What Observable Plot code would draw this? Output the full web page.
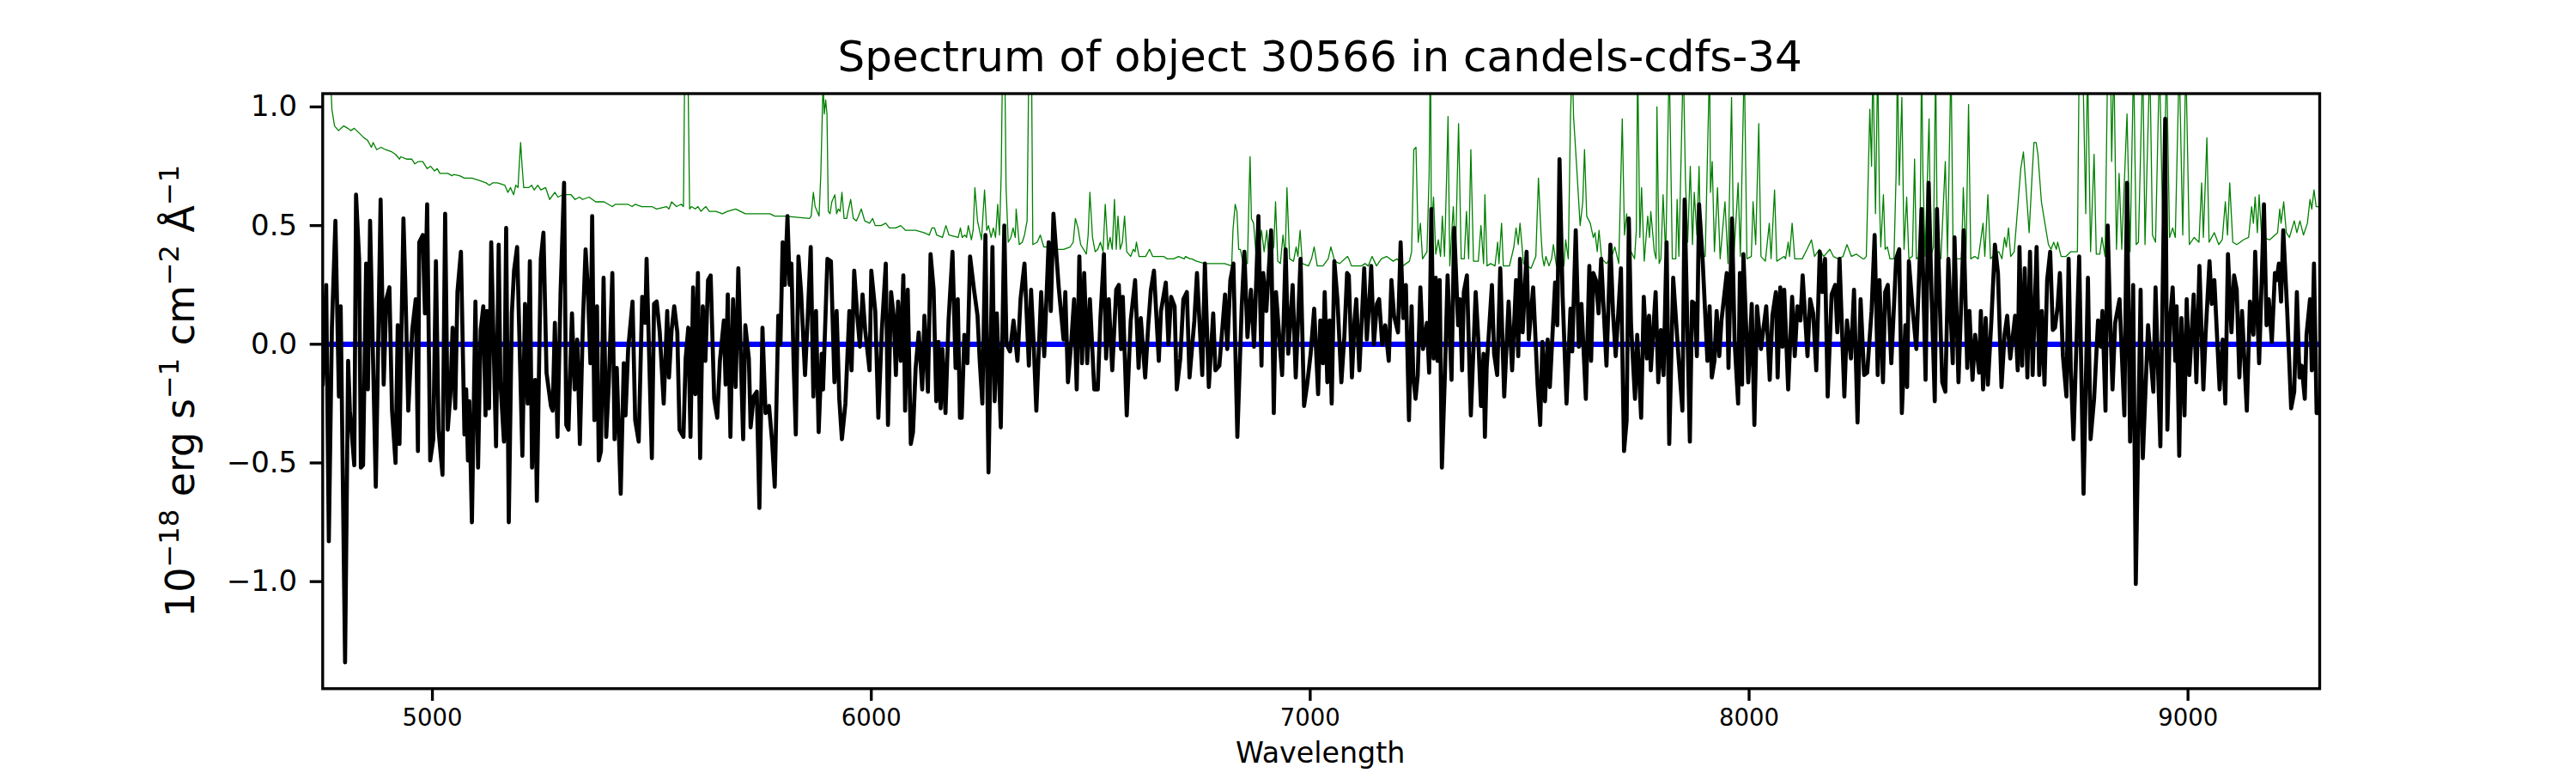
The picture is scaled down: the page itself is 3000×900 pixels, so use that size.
<!DOCTYPE html>
<html><head><meta charset="utf-8">
<script src="https://cdn.jsdelivr.net/npm/d3@7"></script>
<script src="https://cdn.jsdelivr.net/npm/@observablehq/plot@0.6"></script>
<style>html,body{margin:0;padding:0;background:#fff}svg{display:block}</style>
</head><body><div id="chart"></div>
<script>
const titleText = "Spectrum of object 30566 in candels-cdfs-34";
const xLabel = "Wavelength";
const xTicks = [5000,6000,7000,8000,9000];
const yTicks = [-1,-0.5,0,0.5,1];
const blackWave = [
4750,4758,4764,4771,4779,4787,4791,4801,4808,4812,4822,4826,4833,4837,4842,4849,4853,4858,4871,4882,4889,4895,4902,4908,4916,4921,4925,4934,4938,4945,4954,4962,4967,4970,4978,4983,4988,4995,5002,5008,5014,5023,5029,5035,5041,5046,5052,5057,5065,5073,5077,5081,5084,5090,5098,5104,5110,5116,5121,5124,5129,5134,5145,5151,5155,5163,5168,5174,5181,5186,5193,5205,5211,5217,5222,5227,5234,5238,5247,5253,5260,5270,5274,5279,5285,5292,5300,5305,5310,5318,5324,5330,5336,5343,5349,5354,5360,5364,5369,5375,5379,5384,5390,5396,5402,5410,5415,5420,5424,5429,5436,5440,5446,5456,5462,5470,5478,5485,5488,5500,5505,5511,5518,5527,5535,5539,5545,5551,5558,5563,5572,5577,5583,5588,5594,5599,5605,5610,5616,5622,5628,5634,5642,5649,5655,5664,5668,5673,5679,5685,5691,5697,5708,5713,5721,5725,5732,5739,5745,5752,5759,5767,5774,5780,5788,5793,5798,5803,5809,5814,5818,5823,5828,5834,5840,5849,5855,5862,5868,5874,5880,5887,5890,5900,5908,
5916,5921,5927,5933,5941,5950,5955,5961,5968,5974,5980,5986,5996,6000,6009,6016,6024,6033,6038,6045,6051,6056,6061,6067,6073,6077,6083,6090,6095,6101,6108,6116,6121,6129,6135,6142,6148,6153,6158,6162,6169,6176,6185,6192,6197,6202,6206,6212,6219,6225,6234,6242,6247,6253,6260,6267,6276,6281,6286,6295,6303,6308,6316,6324,6333,6340,6349,6359,6364,6370,6376,6387,6394,6404,6409,6415,6427,6438,6442,6448,6456,6462,6468,6474,6480,6485,6492,6498,6508,6516,6522,6530,6535,6541,6549,6558,6564,6569,6573,6582,6591,6601,6609,6614,6624,6631,6637,6644,6655,6660,6671,6677,6683,6691,6696,6704,6711,6719,6725,6736,6742,6754,6760,6769,6779,6784,6793,6806,6811,6818,6825,6834,6844,6850,6857,6865,6872,6882,6889,6893,6900,6911,6917,6922,6930,6936,6944,6950,6960,6967,6978,6986,6993,7001,7009,7018,7023,7029,7033,7039,7044,7049,7055,7062,7071,7078,7084,
7088,7095,7101,7105,7112,7123,7129,7134,7139,7145,7152,7157,7164,7171,7179,7185,7191,7200,7206,7212,7218,7225,7231,7235,7240,7245,7251,7257,7266,7271,7276,7281,7286,7290,7295,7300,7307,7313,7322,7328,7337,7341,7346,7350,7357,7366,7377,7383,7389,7395,7398,7402,7414,7419,7426,7433,7442,7452,7460,7469,7474,7478,7484,7493,7498,7508,7518,7524,7529,7535,7541,7546,7558,7563,7568,7575,7584,7593,7597,7605,7612,7618,7628,7636,7640,7645,7651,7657,7663,7675,7684,7690,7696,7708,7715,7721,7726,7731,7740,7745,7754,7760,7767,7772,7776,7787,7793,7799,7805,7812,7818,7827,7839,7848,7853,7865,7870,7876,7881,7886,7894,7905,7910,7915,7921,7926,7932,7937,7949,7953,7961,7967,7975,7979,7984,7987,7998,8006,8012,8018,8027,8039,8047,8053,8061,8065,8071,8076,8080,8089,8098,8104,8110,8117,8122,8133,8139,8146,8153,8161,8167,8173,8179,8188,8196,8201,8206,8217,8223,8232,8239,8247,8254,
8262,8269,8279,8286,8293,8297,8305,8310,8316,8324,8335,8342,8348,8356,8360,8364,8372,8381,8393,8402,8409,8416,8423,8428,8440,8447,8454,8464,8468,8477,8489,8497,8502,8509,8515,8524,8528,8533,8539,8544,8552,8560,8567,8575,8582,8588,8595,8606,8612,8616,8622,8628,8634,8640,8646,8655,8661,8667,8673,8679,8686,8692,8697,8703,8708,8715,8723,8728,8733,8739,8752,8762,8772,8778,8786,8795,8801,8805,8812,8817,8822,8828,8834,8844,8855,8861,8868,8875,8881,8892,8897,8909,8921,8926,8937,8948,8953,8959,8965,8971,8974,8980,8985,8992,8997,9003,9013,9019,9026,9035,9040,9049,9054,9060,9072,9079,9085,9091,9099,9105,9111,9117,9123,9134,9141,9149,9153,9162,9166,9173,9179,9184,9191,9198,9202,9207,9212,9217,9226,9235,9242,9248,9254,9259,9266,9270,9278,9282,9287,9293,9300];
const blackFlux = [
-.17,.25,-.83,.07,.52,-.22,.16,-1.34,-.07,-.28,-.51,.63,.36,-.52,-.51,.34,-.19,.52,-.60,.61,-.17,.19,.24,-.28,-.50,.08,-.42,.53,.27,-.28,.06,.19,-.45,.43,.46,.13,.59,-.49,-.40,.35,-.36,-.55,.55,-.36,-.21,.07,-.27,.22,.39,-.38,-.19,-.49,-.24,-.75,.18,-.52,.06,.16,-.30,.14,-.27,.43,-.43,.42,-.16,-.41,.49,-.75,.13,.31,.41,-.47,.17,-.25,.35,-.52,-.15,-.66,.36,.47,-.12,-.26,-.28,.09,-.39,.22,.68,-.34,-.36,.13,-.19,.02,-.42,.10,.40,.24,-.08,.54,-.32,.16,-.49,-.45,.28,-.39,-.16,.30,-.40,-.10,-.33,-.63,-.08,-.30,-.02,.18,-.32,-.41,.20,.09,.36,-.48,.17,.18,.05,-.25,.14,-.14,.06,.16,.05,-.36,-.39,-.06,.07,-.39,.24,-.21,.30,-.48,.16,-.07,.27,.29,-.23,-.31,-.07,.10,-.17,.21,-.39,.19,-.18,.32,-.40,.08,-.06,-.35,-.22,-.20,-.69,.07,-.29,-.26,-.41,-.60,.12,.00,.43,.25,.54,.25,.34,-.08,-.38,.37,.22,-.13,.11,.41,-.22,.14,-.37,-.04,-.19,.36,.35,
-.16,.14,-.23,-.40,-.25,.14,-.11,.31,.12,-.01,.21,.06,-.11,.31,.14,-.31,.06,.34,-.34,.22,.12,-.13,.18,-.07,.29,-.28,.23,-.42,-.37,-.10,.05,-.19,.12,-.20,.38,.23,-.24,.01,-.27,-.02,-.29,.10,.39,-.10,.19,-.31,-.31,.04,-.08,.37,.23,.12,-.07,-.25,.46,-.54,.41,-.24,.13,-.35,.50,.00,-.03,.10,-.07,.19,.34,-.09,.23,.00,-.28,.22,-.05,.43,.14,.55,.24,.02,.22,-.16,.02,.19,-.19,.37,-.08,.30,-.08,.19,-.19,-.19,.11,.38,-.06,.19,-.11,.23,.25,-.02,.20,-.30,.10,.27,-.10,.11,-.14,.08,.23,.31,-.07,.14,.26,.00,.20,.16,-.19,-.06,.19,.22,-.14,.10,.30,-.13,.34,-.18,.13,-.11,-.09,.21,-.02,.27,.34,-.39,.16,.39,.03,.23,-.01,.54,-.09,.30,.14,.48,-.29,.22,.02,-.13,.40,-.04,.25,-.14,.36,-.26,-.17,-.04,.15,-.21,.10,-.08,.22,-.16,.10,-.25,.35,.19,-.16,.04,.30,
.29,-.14,.10,.19,-.11,.32,.02,.16,.33,.00,.17,.19,.00,.08,-.07,.27,.12,.05,.43,.11,.25,-.32,.16,-.14,-.23,-.13,.24,-.02,.09,-.12,.57,-.06,.28,-.07,.27,-.52,-.12,.29,-.15,.49,.08,.19,-.11,.22,.29,-.30,.22,.02,-.26,-.04,-.39,-.10,.25,-.04,-.13,.32,-.22,.18,-.11,.27,-.05,.36,.05,.39,.02,.24,-.17,-.34,.01,-.24,.02,-.18,.26,.08,.78,.21,-.25,.15,-.03,.48,-.01,.17,-.23,.33,-.07,.30,.27,.13,.36,-.09,.42,.13,-.05,.32,-.45,-.32,.53,.08,-.23,.04,-.31,.20,-.06,.12,-.11,.22,-.16,.06,-.13,.43,-.42,.28,-.05,-.28,.61,-.41,.18,.17,-.05,.59,.36,-.07,.16,-.14,-.07,.14,-.05,.10,.30,-.10,.53,.01,-.25,.30,-.17,.38,-.16,.17,-.34,.16,-.02,.16,-.15,.12,.22,-.14,.24,-.01,.23,-.19,.20,-.05,.16,.10,.29,-.05,.19,.13,-.11,.39,.22,.36,-.22,.21,.25,.05,.36,-.22,.10,-.06,.23,-.33,.19,
-.13,-.12,.14,.46,-.13,.27,-.16,.22,.25,-.08,.36,.40,-.29,.08,-.18,.35,.16,-.02,.57,-.15,.68,.19,-.24,.57,-.16,-.20,.36,-.08,.45,-.16,.48,-.10,.14,-.15,.04,-.12,.14,-.19,.11,-.17,.10,.42,.30,-.18,.04,.12,-.06,.12,-.11,.41,-.09,.32,-.14,.39,-.13,.41,-.13,.14,-.17,.27,.39,.06,.07,.16,.30,-.05,-.22,.36,-.11,-.40,.37,-.63,.28,-.40,-.23,.10,-.01,.14,-.28,.50,.14,-.19,.09,.19,-.30,.68,-.41,.25,-1.01,.23,-.48,.08,-.20,.24,-.43,.95,-.36,.10,.24,-.07,.16,-.47,.11,-.30,.19,-.13,.21,-.16,.33,-.19,.04,.35,.17,.27,-.19,.02,-.25,.38,.05,.29,.23,-.14,.14,-.28,.18,.04,.39,-.08,.16,.59,.08,.19,.01,.30,.27,.34,.18,.48,.14,-.27,-.20,.22,-.14,-.09,-.23,.04,.19,-.11,.34,-.29,-.29];
const greenWave = [
4750,4766,4771,4777,4786,4792,4798,4807,4814,4822,4833,4844,4852,4861,4865,4873,4883,4893,4908,4916,4925,4928,4942,4953,4960,4968,4978,4988,4996,5005,5011,5017,5035,5045,5048,5062,5073,5090,5107,5122,5130,5137,5148,5165,5172,5178,5185,5190,5195,5198,5201,5204,5208,5219,5226,5232,5240,5247,5258,5267,5279,5286,5297,5316,5325,5335,5342,5357,5372,5391,5410,5417,5436,5445,5455,5462,5477,5500,5511,5533,5539,5545,5556,5567,5572,5575,5579,5582,5586,5590,5599,5605,5612,5617,5623,5631,5646,5661,5672,5691,5713,5736,5769,5780,5803,5859,5863,5868,5872,5881,5885,5890,5893,5896,5899,5902,5906,5910,
5917,5921,5925,5929,5933,5938,5944,5947,5953,5959,5966,5971,5977,5985,5996,6003,6009,6022,6033,6041,6056,6067,6078,6101,6120,6132,6138,6144,6149,6162,6170,6177,6198,6203,6207,6213,6217,6221,6228,6232,6236,6242,6251,6258,6263,6267,6273,6278,6283,6288,6292,6296,6299,6302,6304,6307,6312,6318,6323,6328,6330,6337,6344,6349,6355,6359,6362,6365,6368,6378,6385,6393,6408,6423,6438,6453,6460,6465,6471,6477,6490,6494,6498,6504,6510,6516,6522,6528,6533,6539,6544,6549,6554,6558,6562,6567,6572,6577,6582,6591,6597,6601,6604,6610,6625,6634,6641,6655,6666,6674,6689,6700,6713,6716,6726,6730,6741,6760,6786,6805,6821,6824,6829,6833,6837,6841,6846,6857,6861,6863,6866,6871,6876,6883,6889,6895,6901,6906,6917,6921,6926,6932,6938,6943,6947,6953,6962,6968,6972,6977,6982,6996,7003,7009,7016,7029,7041,7047,7056,7067,7085,
7088,7094,7117,7125,7132,7141,7151,7162,7174,7189,7198,7211,7226,7231,7236,7241,7246,7251,7256,7266,7271,7274,7276,7281,7286,7292,7297,7301,7306,7311,7314,7318,7326,7331,7338,7344,7351,7356,7361,7366,7372,7383,7389,7395,7398,7403,7411,7421,7427,7430,7436,7440,7454,7464,7469,7474,7478,7486,7503,7514,7520,7526,7529,7533,7537,7544,7550,7554,7561,7578,7582,7588,7593,7597,7600,7608,7615,7621,7625,7630,7638,7645,7649,7654,7658,7664,7675,7687,7694,7703,7708,7711,7716,7721,7726,7731,7739,7743,7746,7751,7755,7761,7769,7773,7776,7784,7788,7790,7795,7799,7804,7810,7818,7825,7833,7836,7840,7850,7855,7860,7866,7871,7875,7881,7886,7890,7900,7910,7912,7916,7921,7928,7934,7945,7952,7960,7965,7975,7980,7989,7995,8005,8009,8015,8022,8027,8037,8046,8050,8058,8063,8080,8083,8089,8092,8098,8104,8121,8132,8137,8142,8149,8160,8170,8184,8192,8203,8214,8223,8233,8244,8259,
8262,8267,8270,8275,8279,8282,8288,8293,8297,8300,8306,8310,8315,8321,8330,8335,8338,8342,8348,8353,8359,8364,8372,8377,8381,8389,8393,8396,8401,8410,8414,8420,8425,8429,8437,8447,8452,8460,8465,8475,8484,8488,8494,8500,8505,8514,8522,8533,8537,8544,8550,8561,8569,8576,8582,8586,8591,8596,8604,8613,8619,8625,8634,8638,8645,8649,8654,8658,8666,8673,8682,8688,8694,8700,8703,8711,8722,8733,8748,8752,8759,8767,8771,8778,8786,8791,8799,8804,8811,8817,8823,8826,8831,8837,8843,8849,8861,8868,8876,8882,8887,8897,8902,8913,8919,8926,8935,8943,8951,8958,8965,8971,8980,8988,8995,9003,9014,9025,9031,9035,9043,9048,9060,9070,9078,9085,9090,9095,9102,9111,9119,9126,9138,9145,9149,9153,9158,9162,9168,9186,9198,9204,9209,9212,9218,9224,9231,9242,9248,9255,9263,9272,9278,9282,9287,9292,9300];
const greenFlux = [
2,1.2,.99,.92,.90,.91,.92,.91,.90,.91,.89,.87,.86,.83,.85,.82,.83,.82,.81,.80,.78,.79,.78,.78,.76,.77,.77,.74,.75,.73,.74,.72,.72,.71,.715,.71,.70,.70,.69,.68,.67,.68,.68,.67,.64,.66,.63,.67,.66,.76,.85,.76,.66,.66,.67,.65,.67,.65,.66,.61,.64,.62,.63,.63,.61,.62,.61,.62,.60,.60,.58,.59,.59,.59,.58,.59,.58,.58,.57,.58,.57,.60,.58,.59,.58,1.2,1.8,1.2,.57,.58,.57,.58,.56,.57,.58,.56,.56,.55,.56,.57,.55,.55,.55,.54,.54,.53,.54,.64,.58,.54,.72,1.1,.97,1.03,.97,.56,.55,.60,
.63,.55,.57,.56,.64,.53,.53,.56,.61,.53,.52,.54,.57,.52,.51,.53,.50,.50,.51,.49,.49,.50,.48,.48,.47,.46,.49,.49,.46,.45,.50,.46,.45,.49,.45,.46,.45,.50,.44,.48,.66,.52,.44,.65,.48,.50,.45,.49,.45,.59,.46,.72,1.2,1.8,1.2,.66,.43,.45,.49,.45,.57,.42,.43,.46,.52,1.2,2,1.2,.42,.43,.46,.41,.41,.40,.40,.41,.43,.53,.49,.42,.38,.46,.64,.45,.39,.40,.43,.39,.59,.40,.45,.40,.61,.40,.54,.40,.43,.54,.39,.37,.40,.39,.43,.37,.37,.40,.37,.37,.37,.36,.36,.37,.36,.37,.36,.36,.35,.34,.34,.34,.33,.48,.59,.56,.40,.40,.35,.34,.66,.79,.53,.51,.39,.39,.48,.39,.48,.36,.41,.60,.35,.34,.46,.37,.66,.36,.35,.41,.37,.48,.34,.33,.36,.41,.33,.33,.36,.41,.35,.34,.37,
.36,.33,.33,.34,.33,.37,.33,.36,.37,.35,.36,.33,.35,.39,.82,.83,.43,.51,.36,.39,.72,1.3,.48,.62,.38,.44,.37,.54,.37,.72,.96,.33,.58,.37,.93,.36,.36,.56,.36,.82,.35,.35,.50,.34,.63,.33,.34,.33,.43,.34,.51,.33,.33,.41,.49,.42,.51,.34,.32,.37,.70,.46,.37,.33,.37,.33,.36,.42,.33,.33,.44,.36,.96,1.2,.96,.72,.50,.60,.82,.54,.51,.45,.47,.39,.48,.36,.34,.37,.41,.34,.72,.95,.46,.55,.43,.39,.36,.48,1.2,.45,.66,.35,.54,.45,.56,.39,.36,1.0,.34,.36,.63,.37,1.2,.36,.36,.61,.37,1.2,.69,.43,.75,.42,.64,.46,.75,.37,.37,1.2,.64,.77,.39,.66,.36,.60,.34,1.04,.36,.68,.37,1.2,.36,.37,.60,.42,.93,.37,.35,.51,.36,.65,.35,.37,.36,.43,.37,.51,.36,.36,.40,.42,.44,.37,.40,.37,.40,.37,.36,.37,.42,.37,.38,.36,
.36,.37,.60,.99,.75,1.2,.55,1.2,.60,.41,.63,.40,.41,.36,.36,.72,1.2,.67,1.04,.40,.62,.36,.37,.78,.36,.37,1.2,.72,.37,.95,.37,.41,1.2,.37,.36,.77,.37,1.2,.36,.36,.36,.66,.36,1.01,.36,.37,.36,.51,.37,.63,.36,.38,.39,.36,.45,.41,.49,.37,.39,.60,.74,.81,.58,.47,.72,.85,.85,.80,.60,.52,.42,.40,.43,.40,.43,.37,.37,.39,.39,1.2,1.3,.55,1.2,.39,.80,.38,.38,.45,.37,1.2,1.3,.77,1.2,.40,.72,.40,.97,.39,1.2,.42,.43,1.2,.42,1.2,.46,.43,1.2,.43,1.2,.45,.49,.45,1.2,.46,1.2,.42,.45,.43,.68,.45,.87,.43,.47,.42,.44,.60,.46,.68,.43,.42,.43,.44,.45,.58,.51,.62,.47,.63,.45,.44,.46,.47,.57,.51,.60,.47,.45,.52,.47,.52,.46,.51,.61,.57,.65,.58,.58];
const zeroLine = [{w:4750,f:0},{w:9300,f:0}];

const black = blackWave.map((w,i)=>({w,f:blackFlux[i]}));
const green = greenWave.map((w,i)=>({w,f:greenFlux[i]}));
const font = "'DejaVu Sans'";

const chart = Plot.plot({
  width:3000, height:900,
  marginLeft:375.3, marginRight:299, marginTop:108.5, marginBottom:98.7,
  style:{fontFamily:font, background:"#fff", overflow:"visible"},
  x:{domain:[4750,9300], label:null},
  y:{domain:[-1.451,1.056], label:null},
  marks:[
    Plot.line(green,{x:"w",y:"f",stroke:"#008000",strokeWidth:1.3,clip:true}),
    Plot.line(zeroLine,{x:"w",y:"f",stroke:"#0000ff",strokeWidth:6.25,clip:true}),
    Plot.line(black,{x:"w",y:"f",stroke:"#000",strokeWidth:4.7,clip:true}),
    Plot.frame({stroke:"#000",strokeWidth:3.33}),
    Plot.axisX({ticks:xTicks,tickFormat:"d",tickSize:14.6,tickPadding:9,fontSize:27.5,strokeWidth:3.33,label:null,fill:"#000",color:"#000"}),
    Plot.axisY({ticks:yTicks,tickFormat:d3.format(".1f"),tickSize:14.6,tickPadding:15,fontSize:34,strokeWidth:3.33,label:null,className:"ytk"}),
    Plot.text([titleText],{frameAnchor:"top",dx:-1.5,dy:-25.8,lineAnchor:"bottom",fontSize:50,fill:"#000"}),
    Plot.text([xLabel],{frameAnchor:"bottom",dx:-1,dy:85.7,lineAnchor:"bottom",fontSize:33.3,fill:"#000"}),
    Plot.text(["ylabel"],{frameAnchor:"left",dx:-150,rotate:-90,fontSize:46,fill:"#000",textAnchor:"middle",lineAnchor:"bottom",className:"ylab"})
  ]
});
// y-axis title with raised exponents, as real text
const yl = d3.select(chart).select("g.ylab text");
yl.text(null);
const parts = [["10",0],["\u221218",1],[" erg s",0],["\u22121",1],[" cm",0],["\u22122",1],[" \u00c5",0],["\u22121",1]];
let raised = false;
parts.forEach(([t,sup])=>{
  const s = yl.append("tspan").text(t).attr("xml:space","preserve").style("white-space","pre");
  if(sup){ s.attr("font-size",32).attr("dy",-18); raised=true; }
  else if(raised){ s.attr("dy",18); raised=false; }
});
document.getElementById("chart").appendChild(chart);
</script></body></html>
